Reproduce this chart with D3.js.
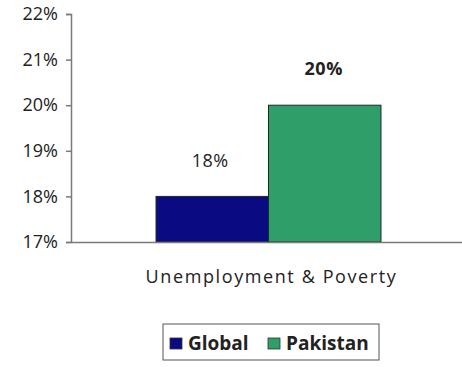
<!DOCTYPE html>
<html>
<head>
<meta charset="utf-8">
<script src="https://cdn.jsdelivr.net/npm/d3@7"></script>
<style>
  html, body { margin: 0; padding: 0; background: #fff; }
  svg { display: block; }
  text { font-family: "Open Sans", "DejaVu Sans", sans-serif; fill: #222; }
</style>
</head>
<body>
<svg id="chart" width="462" height="367"></svg>
<script>
// Share of population, single category, two series
const categories = ["Unemployment & Poverty"];
const seriesNames = ["Global", "Pakistan"];
const seriesValues = [0.18, 0.20];
const seriesColors = ["#0a0a82", "#2f9e68"];
const yTicks = [0.17, 0.18, 0.19, 0.20, 0.21, 0.22];

const svg = d3.select("#chart");
const plot = { left: 71, right: 466, top: 14, bottom: 242 };

const y = d3.scaleLinear().domain([0.17, 0.22]).range([plot.bottom, plot.top]);
const x0 = d3.scaleBand().domain(categories).range([plot.left, plot.right]).paddingInner(0).paddingOuter(0.378);
const x1 = d3.scaleBand().domain(seriesNames).range([0, x0.bandwidth()]).padding(0);

// y axis
const yAxis = d3.axisLeft(y).tickValues(yTicks).tickSize(5).tickPadding(8)
  .tickFormat(d3.format(".0%"));
const gy = svg.append("g").attr("transform", `translate(${plot.left},0)`).call(yAxis);
gy.select(".domain").attr("stroke", "#7a7a7a").attr("stroke-width", 1.5);
gy.selectAll(".tick line").attr("stroke", "#7a7a7a").attr("stroke-width", 1.5);
gy.selectAll(".tick text").attr("font-size", 18).attr("fill", "#333")
  .attr("font-family", "'Open Sans', sans-serif");

// bars
const bars = svg.append("g");
categories.forEach(cat => {
  seriesNames.forEach((s, i) => {
    const v = seriesValues[i];
    bars.append("rect")
      .attr("x", x0(cat) + x1(s))
      .attr("y", y(v))
      .attr("width", x1.bandwidth())
      .attr("height", y(0.17) - y(v))
      .attr("fill", seriesColors[i])
      .attr("stroke", "#1d2a22")
      .attr("stroke-width", 1);
  });
});

// value labels
seriesNames.forEach((s, i) => {
  const v = seriesValues[i];
  svg.append("text")
    .attr("x", x0(categories[0]) + x1(s) + x1.bandwidth() / 2 - (i === 0 ? 2 : 1))
    .attr("y", y(v) - (i === 0 ? 29 : 30))
    .attr("text-anchor", "middle")
    .attr("font-size", 18)
    .attr("letter-spacing", 0.5)
    .attr("font-weight", i === 1 ? "bold" : "normal")
    .attr("fill", "#222")
    .text(d3.format(".0%")(v));
});

// x axis baseline
const gx = svg.append("g").attr("transform", `translate(0,${plot.bottom})`)
  .call(d3.axisBottom(x0).tickSize(0).tickPadding(28));
gx.select(".domain").attr("stroke", "#7a7a7a").attr("stroke-width", 1.5);
gx.selectAll(".tick text").attr("font-size", 18).attr("fill", "#333")
  .attr("letter-spacing", 1.6).attr("dx", 3)
  .attr("font-family", "'Open Sans', sans-serif");

// legend
const legend = svg.append("g").attr("transform", "translate(163,324)");
legend.append("rect").attr("width", 216).attr("height", 36)
  .attr("fill", "#fff").attr("stroke", "#555").attr("stroke-width", 1);
const legendX = [7, 105];
seriesNames.forEach((s, i) => {
  const g = legend.append("g").attr("transform", `translate(${legendX[i]},0)`);
  g.append("rect").attr("x", 0).attr("y", 14).attr("width", 12).attr("height", 11)
    .attr("fill", seriesColors[i]).attr("stroke", "#333").attr("stroke-width", 0.8);
  g.append("text").attr("x", 18).attr("y", 25.5)
    .attr("font-size", 19).attr("font-weight", "bold").attr("fill", "#222")
    .text(s);
});
</script>
</body>
</html>
